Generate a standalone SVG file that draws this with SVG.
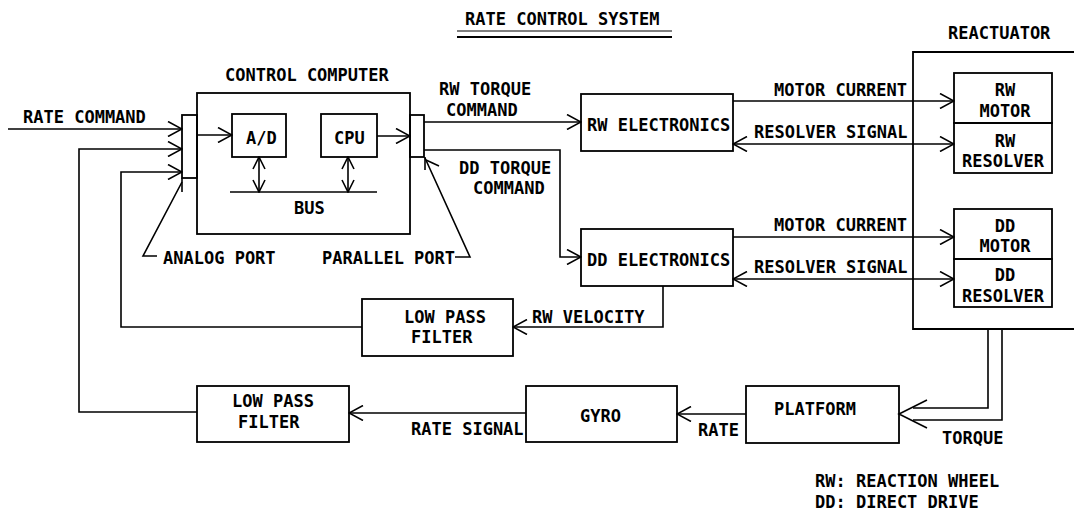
<svg xmlns="http://www.w3.org/2000/svg" width="1074" height="510" viewBox="0 0 1074 510">
<style>
text{font-family:"DejaVu Sans Mono","Liberation Mono",monospace;font-size:17px;font-weight:bold;fill:#000}
.b{fill:none;stroke:#000;stroke-width:1.8}
.c{fill:none;stroke:#000;stroke-width:1.6}
.m{text-anchor:middle}
</style>
<defs>
<marker id="a" viewBox="0 0 16 16" refX="15" refY="8" markerWidth="16" markerHeight="16" markerUnits="userSpaceOnUse" orient="auto-start-reverse">
<path d="M1,0.5 L15,8 L1,15.5" fill="none" stroke="#000" stroke-width="1.6"/>
</marker>
<marker id="s" viewBox="0 0 14 14" refX="13" refY="7" markerWidth="14" markerHeight="14" markerUnits="userSpaceOnUse" orient="auto-start-reverse">
<path d="M1,1 L13,7 L1,13" fill="none" stroke="#000" stroke-width="1.6"/>
</marker>
</defs>
<rect width="1074" height="510" fill="#fff"/>
<g id="title">
<text x="465" y="25">RATE CONTROL SYSTEM</text>
<line x1="457" y1="31" x2="672" y2="31" stroke="#000" stroke-width="1.2"/>
<line x1="457" y1="37" x2="672" y2="37" stroke="#000" stroke-width="1.8"/>
</g>
<g id="control-computer">
<rect class="b" x="197" y="93" width="213" height="141"/>
<text x="225" y="81">CONTROL COMPUTER</text>
<text x="294" y="214">BUS</text>
</g>
<g id="analog-port"><rect class="b" x="182" y="115" width="15" height="63"/></g>
<g id="parallel-port"><rect class="b" x="410" y="115" width="14" height="42"/></g>
<g id="ad"><rect class="b" x="232" y="114" width="54" height="43"/><text x="246" y="144">A/D</text></g>
<g id="cpu"><rect class="b" x="321" y="114" width="56" height="43"/><text x="334" y="144">CPU</text></g>
<g id="rw-electronics"><rect class="b" x="581" y="94" width="152" height="57"/><text x="587" y="131">RW ELECTRONICS</text></g>
<g id="dd-electronics"><rect class="b" x="581" y="229" width="152" height="57"/><text x="587" y="266">DD ELECTRONICS</text></g>
<g id="reactuator">
<path class="b" d="M1074,52 H913 V329 H1074"/>
<text x="948" y="39">REACTUATOR</text>
</g>
<g id="rw-motor"><rect class="b" x="954" y="73" width="98" height="50"/><text class="m" x="1005" y="96">RW</text><text class="m" x="1005" y="117">MOTOR</text></g>
<g id="rw-resolver"><rect class="b" x="954" y="123" width="98" height="50"/><text class="m" x="1005" y="147">RW</text><text class="m" x="1003" y="167">RESOLVER</text></g>
<g id="dd-motor"><rect class="b" x="954" y="209" width="98" height="50"/><text class="m" x="1005" y="232">DD</text><text class="m" x="1005" y="252">MOTOR</text></g>
<g id="dd-resolver"><rect class="b" x="954" y="259" width="98" height="48"/><text class="m" x="1005" y="281">DD</text><text class="m" x="1003" y="302">RESOLVER</text></g>
<g id="lpf-upper"><rect class="b" x="362" y="299" width="151" height="57"/><text x="404" y="323">LOW PASS</text><text x="411" y="343">FILTER</text></g>
<g id="lpf-lower"><rect class="b" x="197" y="386" width="152" height="56"/><text x="232" y="407">LOW PASS</text><text x="238" y="428">FILTER</text></g>
<g id="gyro"><rect class="b" x="526" y="386" width="151" height="56"/><text x="580" y="422">GYRO</text></g>
<g id="platform"><rect class="b" x="746" y="386" width="153" height="57"/><text x="774" y="415">PLATFORM</text></g>
<g id="connectors">
<line class="c" x1="8" y1="129" x2="182" y2="129" marker-end="url(#a)"/>
<polyline class="c" points="197,412 79,412 79,149 182,149" marker-end="url(#a)"/>
<polyline class="c" points="362,327 121,327 121,172 182,172" marker-end="url(#a)"/>
<line class="c" x1="197" y1="135" x2="232" y2="135" marker-end="url(#a)"/>
<line class="c" x1="377" y1="136" x2="410" y2="136" marker-end="url(#a)"/>
<line class="c" x1="230" y1="192" x2="377" y2="192"/>
<line class="c" x1="259" y1="157" x2="259" y2="192" marker-start="url(#s)" marker-end="url(#s)"/>
<line class="c" x1="348" y1="157" x2="348" y2="192" marker-start="url(#s)" marker-end="url(#s)"/>
<line class="c" x1="424" y1="122" x2="581" y2="122" marker-end="url(#a)"/>
<polyline class="c" points="424,150 560,150 560,257 581,257" marker-end="url(#a)"/>
<line class="c" x1="733" y1="101" x2="954" y2="101" marker-end="url(#a)"/>
<line class="c" x1="733" y1="144" x2="954" y2="144" marker-start="url(#a)" marker-end="url(#a)"/>
<line class="c" x1="733" y1="237" x2="954" y2="237" marker-end="url(#a)"/>
<line class="c" x1="733" y1="279" x2="954" y2="279" marker-start="url(#a)" marker-end="url(#a)"/>
<polyline class="c" points="663,286 663,327 513,327" marker-end="url(#a)"/>
<line class="c" x1="526" y1="413" x2="349" y2="413" marker-end="url(#a)"/>
<line class="c" x1="746" y1="414" x2="677" y2="414" marker-end="url(#a)"/>
<polyline class="c" points="988,329 988,408 913,408"/>
<polyline class="c" points="1002,329 1002,420 913,420"/>
<polyline class="c" points="927,400 899,414 927,428"/>
<polyline class="c" points="157,256 143,256 182,182"/>
<line class="c" x1="182" y1="178" x2="182" y2="192"/>
<polyline class="c" points="455,257 470,257 425,158"/>
<line class="c" x1="425" y1="157" x2="425" y2="170"/>
<line class="c" x1="426" y1="160" x2="439" y2="166"/>
</g>
<g id="labels">
<text x="23" y="123">RATE COMMAND</text>
<text x="439" y="95">RW TORQUE</text>
<text x="446" y="116">COMMAND</text>
<text x="459" y="174">DD TORQUE</text>
<text x="473" y="194">COMMAND</text>
<text x="163" y="264">ANALOG PORT</text>
<text x="322" y="264">PARALLEL PORT</text>
<text x="774" y="96">MOTOR CURRENT</text>
<text x="754" y="138">RESOLVER SIGNAL</text>
<text x="774" y="231">MOTOR CURRENT</text>
<text x="754" y="273">RESOLVER SIGNAL</text>
<text x="532" y="323">RW VELOCITY</text>
<text x="411" y="435">RATE SIGNAL</text>
<text x="698" y="436">RATE</text>
<text x="942" y="444">TORQUE</text>
<text x="815" y="487">RW: REACTION WHEEL</text>
<text x="815" y="508">DD: DIRECT DRIVE</text>
</g>
</svg>
